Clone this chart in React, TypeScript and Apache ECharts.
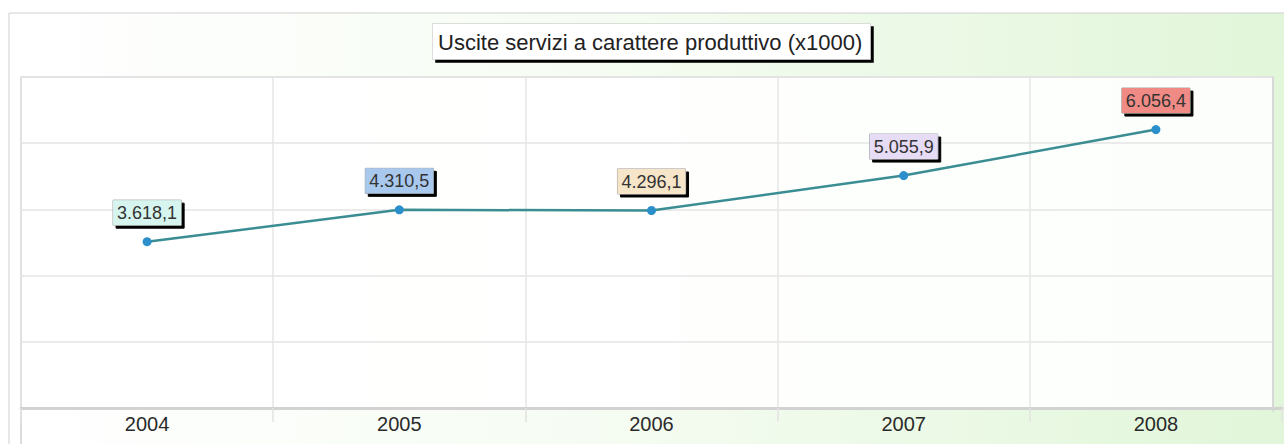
import React, { useEffect, useRef } from "react";
import * as echarts from "echarts";

const years = ["2004", "2005", "2006", "2007", "2008"];
const values = [3618.1, 4310.5, 4296.1, 5055.9, 6056.4];
const labelColors = ["#d6f5ef", "#a9c8ee", "#f6e5c8", "#e6dcf5", "#f08a84"];
const titleText = "Uscite servizi a carattere produttivo (x1000)";
const yMin = 0;
const yMax = 7200;
const yStep = 1440;

const FONT = "'Liberation Sans', Arial, sans-serif";

function fmtIt(v: number): string {
  const fixed = v.toFixed(1);
  const [intPart, dec] = fixed.split(".");
  const withDots = intPart.replace(/\B(?=(\d{3})+(?!\d))/g, ".");
  return withDots + "," + dec;
}

export default function App() {
  const ref = useRef<HTMLDivElement>(null);
  useEffect(() => {
    if (!ref.current) return;
    const chart = echarts.init(ref.current, undefined, { renderer: "svg" });
    const option: any = {
      animation: false,
      backgroundColor: "#ffffff",
      title: {
        text: titleText,
        left: 432,
        top: 23,
        padding: [8, 8, 7, 6],
        backgroundColor: "#ffffff",
        borderColor: "#bdbdbd",
        borderWidth: 0.5,
        shadowColor: "#000000",
        shadowBlur: 0,
        shadowOffsetX: 3,
        shadowOffsetY: 3,
        textStyle: {
          fontFamily: FONT,
          fontSize: 22,
          fontWeight: "normal",
          color: "#222222",
        },
      },
      graphic: [
        {
          type: "rect",
          z: -10,
          silent: true,
          shape: { x: 9, y: 13, width: 1280, height: 440 },
          style: {
            fill: new echarts.graphic.LinearGradient(0, 0, 1, 0, [
              { offset: 0, color: "#ffffff" },
              { offset: 0.45, color: "#f6fcf3" },
              { offset: 1, color: "#e1f6d9" },
            ]),
            stroke: "#cfcfcf",
            lineWidth: 1,
          },
        },
        {
          type: "rect",
          z: -9,
          silent: true,
          shape: { x: 21, y: 77, width: 1252, height: 331 },
          style: {
            fill: "rgba(255,255,255,0.88)",
            stroke: "#d6d6d6",
            lineWidth: 1.5,
          },
        },
        {
          type: "line",
          z: -8,
          silent: true,
          shape: { x1: 21, y1: 77, x2: 21, y2: 444 },
          style: { stroke: "#d0d0d0", lineWidth: 1.5 },
        },
        {
          type: "rect",
          z: 50,
          silent: true,
          shape: { x: 1274.5, y: 60, width: 12, height: 345 },
          style: { fill: "#e2f6da" },
        },
        {
          type: "line",
          z: 51,
          silent: true,
          shape: { x1: 1273, y1: 77, x2: 1273, y2: 412 },
          style: { stroke: "#d6d6d6", lineWidth: 1.5 },
        },
      ],
      grid: {
        left: 21,
        top: 77,
        width: 1261,
        height: 331,
      },
      xAxis: {
        type: "category",
        data: years,
        boundaryGap: true,
        axisLine: { show: true, lineStyle: { color: "#d2d2d2", width: 3 } },
        axisTick: { show: true, length: 14, lineStyle: { color: "#e2e2e2", width: 1.5 } },
        splitLine: { show: true, lineStyle: { color: "#e6e6e6", width: 1.5 } },
        axisLabel: {
          fontFamily: FONT,
          fontSize: 20,
          color: "#2a2a2a",
          margin: 6,
        },
      },
      yAxis: {
        type: "value",
        min: yMin,
        max: yMax,
        interval: yStep,
        axisLine: { show: false },
        axisTick: { show: false },
        axisLabel: { show: false },
        splitLine: { show: true, lineStyle: { color: "#e4e4e4", width: 1.5 } },
      },
      series: [
        {
          type: "line",
          data: values.map((v, i) => ({
            value: v,
            label: { backgroundColor: labelColors[i] },
          })),
          symbol: "circle",
          symbolSize: 9,
          itemStyle: { color: "#2b8fcb" },
          lineStyle: { color: "#3a8d93", width: 2.5 },
          label: {
            show: true,
            position: "top",
            distance: 12,
            fontFamily: FONT,
            fontSize: 18,
            color: "#333333",
            padding: [4, 4, 3, 4],
            borderColor: "#9a9a9a",
            borderWidth: 0.5,
            shadowColor: "#000000",
            shadowBlur: 0,
            shadowOffsetX: 3,
            shadowOffsetY: 3,
            formatter: (p: any) => fmtIt(p.value),
          },
        },
      ],
    };
    chart.setOption(option);
    return () => chart.dispose();
  }, []);
  return (
    <div
      ref={ref}
      style={{ position: "absolute", left: 0, top: 0, width: 1284, height: 444 }}
    />
  );
}
